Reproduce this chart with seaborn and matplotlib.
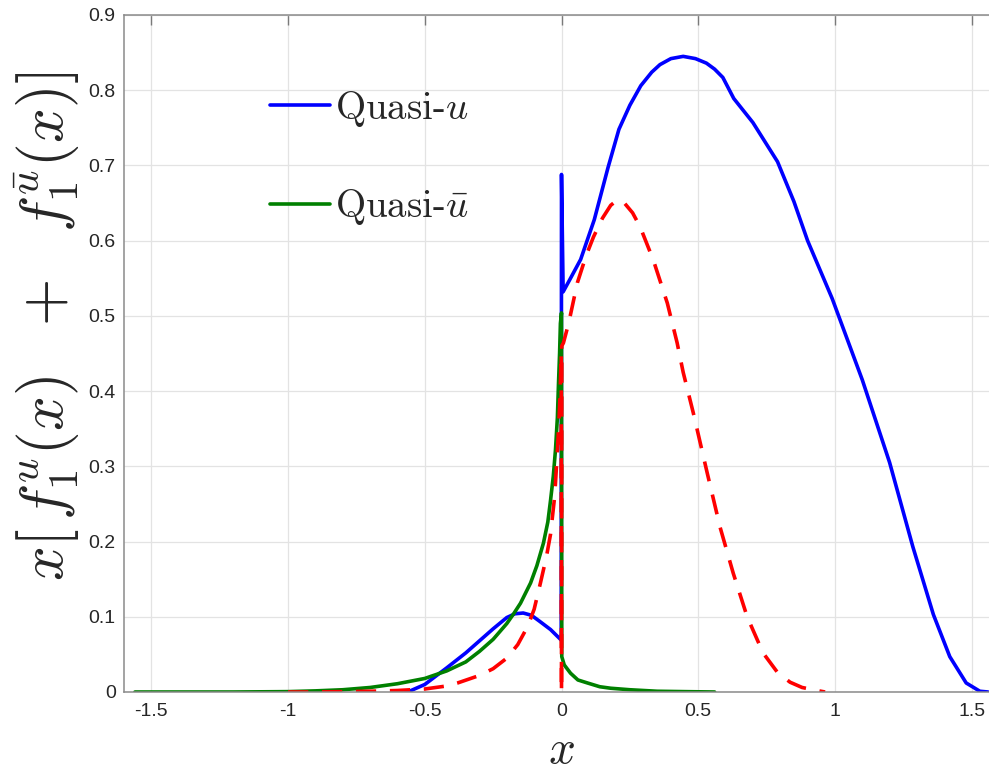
import numpy as np
import pandas as pd
import matplotlib
matplotlib.use("Agg")
import matplotlib.pyplot as plt
import seaborn as sns

# Quasi-u (blue)
blue_x = [-0.57, -0.55, -0.50, -0.42, -0.35, -0.30, -0.25, -0.20, -0.17, -0.14, -0.11, -0.08,
          -0.04, -0.001, 0.0, 0.006, 0.03, 0.07, 0.12, 0.17, 0.21, 0.25, 0.29, 0.33, 0.36, 0.40,
          0.445, 0.49, 0.53, 0.56, 0.59, 0.61, 0.63, 0.70, 0.79, 0.85, 0.90, 0.99, 1.10, 1.20,
          1.285, 1.36, 1.42, 1.48, 1.53, 1.56]
blue_y = [0.0, 0.002, 0.010, 0.032, 0.052, 0.068, 0.084, 0.099, 0.104, 0.105, 0.102, 0.094,
          0.083, 0.069, 0.688, 0.532, 0.548, 0.575, 0.628, 0.697, 0.748, 0.780, 0.806, 0.824, 0.834, 0.842,
          0.845, 0.842, 0.836, 0.828, 0.817, 0.803, 0.789, 0.757, 0.705, 0.652, 0.600, 0.523, 0.415, 0.305,
          0.193, 0.103, 0.047, 0.012, 0.001, 0.0]

# Quasi-ubar (green)
green_x = [-1.56, -1.2, -1.0, -0.9, -0.8, -0.7, -0.6, -0.5, -0.42, -0.35, -0.30, -0.25, -0.20,
           -0.175, -0.15, -0.113, -0.09, -0.066, -0.05, -0.04, -0.03, -0.022, -0.015, -0.011,
           -0.007, -0.004, 0.0, 0.001, 0.01, 0.033, 0.06, 0.095, 0.14, 0.18, 0.25, 0.35, 0.45, 0.56]
green_y = [0.0, 0.0, 0.0005, 0.0015, 0.003, 0.006, 0.011, 0.018, 0.028, 0.040, 0.054, 0.070, 0.091,
           0.104, 0.118, 0.145, 0.168, 0.198, 0.226, 0.255, 0.287, 0.322, 0.365, 0.41,
           0.45, 0.49, 0.504, 0.047, 0.036, 0.025, 0.016, 0.012, 0.007, 0.005, 0.003, 0.001, 0.0005, 0.0]

# third curve (red dashed)
red_x = [-1.0, -0.9, -0.8, -0.7, -0.6, -0.5, -0.42, -0.38, -0.3, -0.25, -0.2, -0.16, -0.124, -0.1,
         -0.077, -0.055, -0.04, -0.025, -0.015, -0.008, -0.004, -0.001, 0.0, 0.001, 0.007, 0.026,
         0.058, 0.09, 0.117, 0.15, 0.18, 0.204, 0.23, 0.26, 0.288, 0.336, 0.387, 0.423, 0.445, 0.482,
         0.533, 0.58, 0.628, 0.679, 0.737, 0.79, 0.836, 0.88, 0.934, 0.964]
red_y = [0.0, 0.0, 0.0005, 0.001, 0.002, 0.004, 0.008, 0.012, 0.022, 0.031, 0.045, 0.063, 0.087, 0.11,
         0.145, 0.18, 0.21, 0.26, 0.32, 0.37, 0.41, 0.45, 0.0, 0.46, 0.464, 0.49,
         0.544, 0.58, 0.605, 0.630, 0.647, 0.654, 0.650, 0.637, 0.618, 0.574, 0.517, 0.464, 0.425, 0.371,
         0.291, 0.219, 0.158, 0.100, 0.052, 0.026, 0.013, 0.006, 0.002, 0.0]

x_ticks = [-1.5, -1, -0.5, 0, 0.5, 1, 1.5]
x_tick_labels = ["-1.5", "-1", "-0.5", "0", "0.5", "1", "1.5"]
y_ticks = [0, 0.1, 0.2, 0.3, 0.4, 0.5, 0.6, 0.7, 0.8, 0.9]
y_tick_labels = ["0", "0.1", "0.2", "0.3", "0.4", "0.5", "0.6", "0.7", "0.8", "0.9"]

sns.set_style("white")
plt.rcParams["font.family"] = ["Liberation Sans", "DejaVu Sans"]
plt.rcParams["mathtext.fontset"] = "cm"
plt.rcParams["axes.unicode_minus"] = False

fig = plt.figure(figsize=(9.89, 7.75), dpi=100)
ax = fig.add_axes([124 / 989, 83 / 775, 875 / 989, 677 / 775])

lw = 2.6
sns.lineplot(x=blue_x, y=blue_y, sort=False, estimator=None, color="#0000ff", lw=lw,
             label=r"Quasi-$u$", ax=ax)
sns.lineplot(x=green_x, y=green_y, sort=False, estimator=None, color="#008000", lw=lw,
             label=r"Quasi-$\bar{u}$", ax=ax)
sns.lineplot(x=red_x, y=red_y, sort=False, estimator=None, color="#ff0000", lw=lw,
             label="_nolegend_", ax=ax)
ax.lines[-1].set_dashes((5.6, 3.8))

ax.set_xlim(-1.6, 1.6)
ax.set_ylim(0, 0.9)
ax.set_xticks(x_ticks)
ax.set_xticklabels(x_tick_labels)
ax.set_yticks(y_ticks)
ax.set_yticklabels(y_tick_labels)
ax.grid(True, color="#e3e3e3", lw=0.9)
ax.set_axisbelow(True)
ax.tick_params(direction="in", length=7, width=1, color="#7a7a7a", labelcolor="#262626",
               labelsize=14, top=True, right=True)
ax.tick_params(axis="y", pad=6)
ax.tick_params(axis="x", pad=8)
for s in ax.spines.values():
    s.set_color("#8a8a8a")
    s.set_linewidth(1.1)

ax.set_xlabel(r"$x$", fontsize=34)
ax.xaxis.set_label_coords(0.4994, -0.055)
ax.set_ylabel(r"$x\left[\,f_1^{u}(x)\ \ +\ \ f_1^{\bar{u}}(x)\right]$", fontsize=44)
ax.yaxis.set_label_coords(-0.048, 0.54)

leg = ax.legend(loc="upper left", bbox_to_anchor=(270 / 989, 1 - 89 / 775),
                bbox_transform=fig.transFigure, frameon=False, borderpad=0, borderaxespad=0,
                handlelength=1.55, handletextpad=0.12, labelspacing=1.5,
                prop={"family": "cmr10", "size": 28})

fig.savefig("out.png", dpi=100)
